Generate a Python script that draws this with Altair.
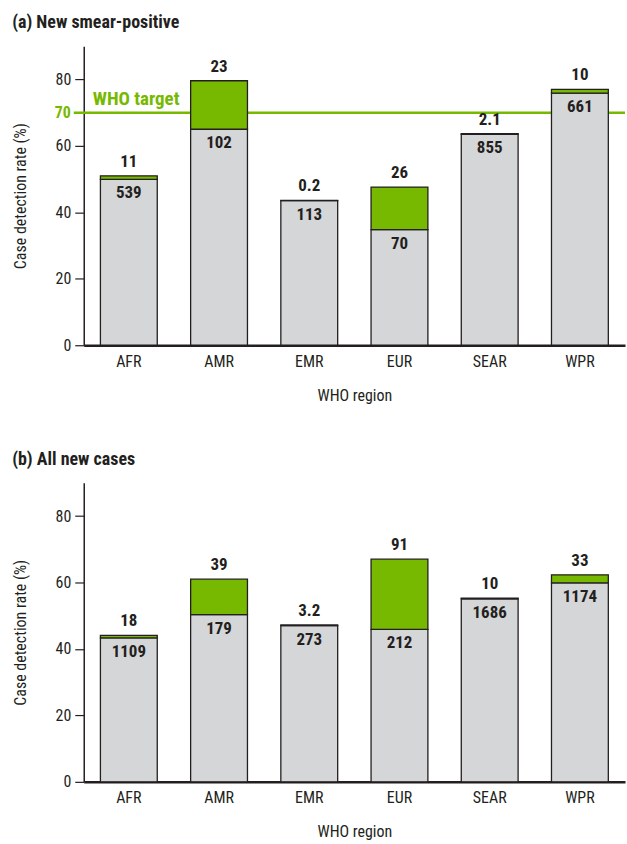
import altair as alt
import pandas as pd

FONT = "Roboto Condensed, Liberation Sans Narrow, Roboto, sans-serif"
GREY = "#d5d6d8"
GREEN = "#76b900"
INK = "#231f20"

regions = ["AFR", "AMR", "EMR", "EUR", "SEAR", "WPR"]

# (a) New smear-positive: case detection rate (%) before / after the added cases
a_base = [49.9, 65.0, 43.5, 34.8, 63.5, 75.9]
a_total = [51.0, 79.6, 43.6, 47.6, 63.7, 77.0]
a_inner = ["539", "102", "113", "70", "855", "661"]
a_top = ["11", "23", "0.2", "26", "2.1", "10"]

# (b) All new cases
b_base = [43.3, 50.3, 47.0, 45.9, 55.1, 59.9]
b_total = [44.1, 61.0, 47.2, 67.0, 55.3, 62.3]
b_inner = ["1109", "179", "273", "212", "1686", "1174"]
b_top = ["18", "39", "3.2", "91", "10", "33"]

who_target = 70

W, H = 543, 300


def panel(title, base, total, inner, top, target=False):
    df = pd.DataFrame({"region": regions, "base": base, "total": total,
                       "inner": inner, "top": top})
    x = alt.X("region:N", sort=regions, title="WHO region",
              scale=alt.Scale(paddingInner=0.37, paddingOuter=0.185),
              axis=alt.Axis(labelAngle=0, ticks=False, domainWidth=2.5,
                            labelPadding=8, titlePadding=18))
    y_scale = alt.Scale(domain=[0, 90], nice=False)
    y_axis = alt.Axis(values=[0, 20, 40, 60, 80], tickSize=9, tickWidth=1.2,
                      domainWidth=1.5, labelPadding=4, titlePadding=27)

    base_chart = alt.Chart(df)
    grey = base_chart.mark_bar(color=GREY, stroke=INK, strokeWidth=1.3).encode(
        x=x,
        y=alt.Y("base:Q", scale=y_scale, axis=y_axis,
                title="Case detection rate (%)"),
    )
    green = base_chart.mark_bar(color=GREEN, stroke=INK, strokeWidth=1.3).encode(
        x=x, y="base:Q", y2="total:Q"
    )
    top_txt = base_chart.mark_text(font=FONT, fontSize=17, fontWeight="bold",
                                   color=INK, baseline="bottom", dy=-5).encode(
        x=x, y="total:Q", text="top:N"
    )
    inner_txt = base_chart.mark_text(font=FONT, fontSize=17, fontWeight="bold",
                                     color=INK, baseline="top", dy=6).encode(
        x=x, y="base:Q", text="inner:N"
    )
    layers = []
    extra = []
    if target:
        tdf = pd.DataFrame({"v": [who_target]})
        rule = alt.Chart(tdf).mark_rule(color=GREEN, strokeWidth=2.5).encode(
            y="v:Q", x=alt.value(-10), x2=alt.value(W)
        )
        lbl70 = alt.Chart(tdf).mark_text(
            font=FONT, fontSize=16, fontWeight="bold", color=GREEN,
            align="right", baseline="middle"
        ).encode(y="v:Q", x=alt.value(-13), text=alt.value("70"))
        lbl_t = alt.Chart(tdf).mark_text(
            font=FONT, fontSize=19, fontWeight="bold", color=GREEN,
            align="left", baseline="bottom", dy=-4
        ).encode(y="v:Q", x=alt.value(9), text=alt.value("WHO target"))
        layers = [rule]
        extra = [lbl70, lbl_t]
    return alt.layer(*layers, grey, green, top_txt, inner_txt, *extra).properties(
        width=W, height=H,
        title=alt.TitleParams(title, anchor="start", frame="bounds",
                              font=FONT, fontSize=18, fontWeight="bold",
                              color=INK, offset=14),
    )


chart_a = panel("(a) New smear-positive", a_base, a_total, a_inner, a_top, target=True)
chart_b = panel("(b) All new cases", b_base, b_total, b_inner, b_top)

chart = alt.vconcat(chart_a, chart_b, spacing=48).properties(
    padding={"left": 12, "top": 13, "right": 0, "bottom": 0},
    background="white",
).configure_view(stroke=None).configure_axis(
    labelFont=FONT, titleFont=FONT, labelFontSize=16, titleFontSize=16,
    titleFontWeight="normal", labelColor=INK, titleColor=INK,
    domainColor=INK, tickColor=INK, grid=False,
)

chart.save("out.html", embed_options={"renderer": "svg", "actions": False})
